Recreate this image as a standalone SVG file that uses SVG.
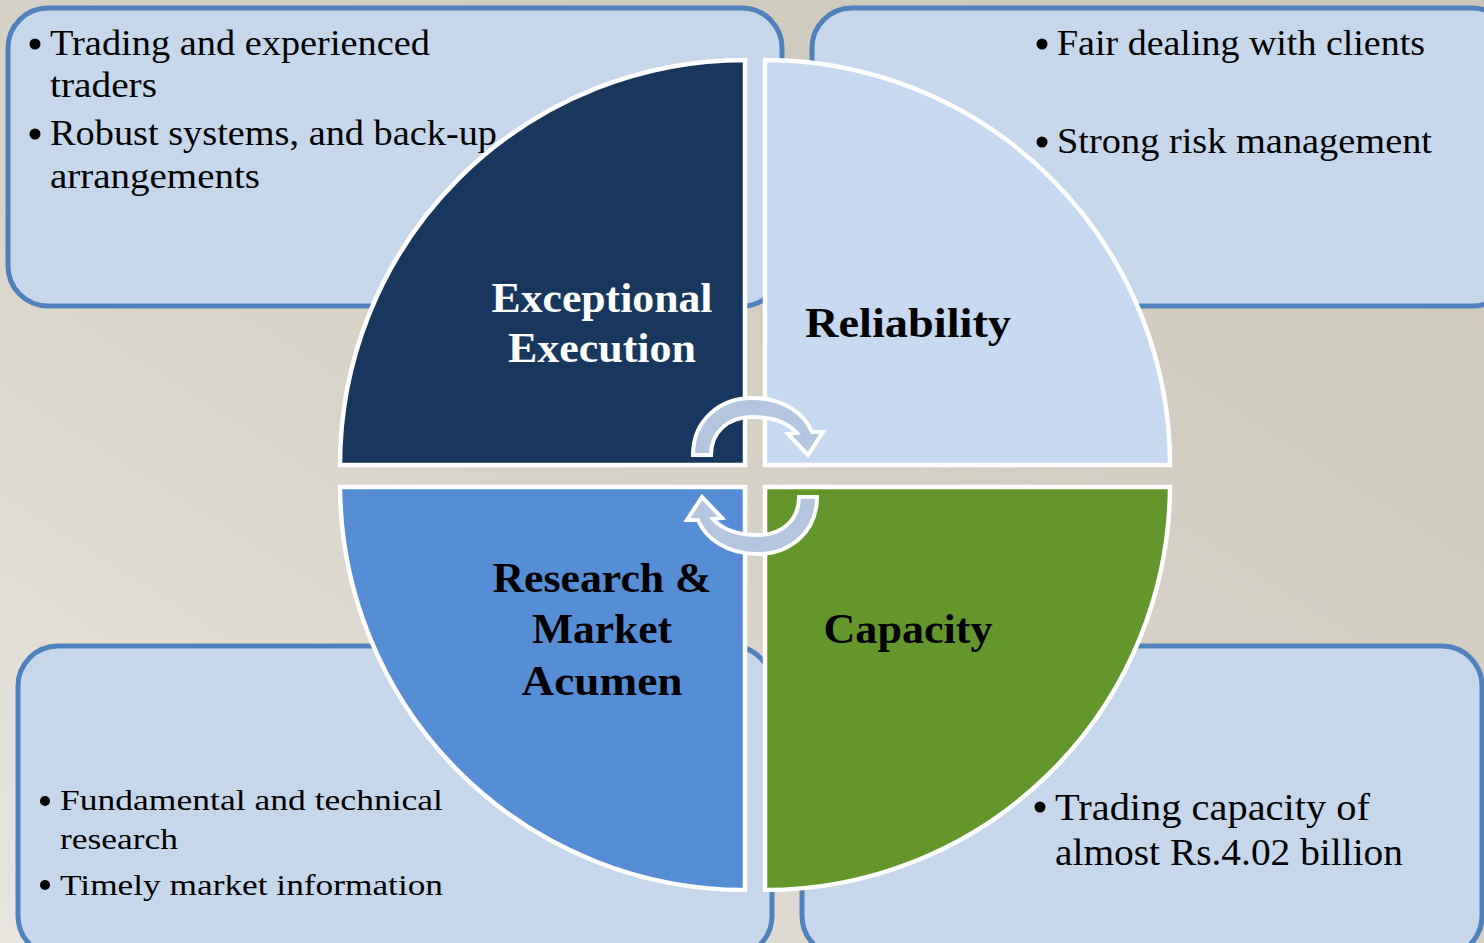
<svg xmlns="http://www.w3.org/2000/svg" width="1484" height="943" viewBox="0 0 1484 943">
<defs>
<linearGradient id="bg" x1="0" y1="1" x2="1" y2="0">
<stop offset="0" stop-color="#e9e6e0"/>
<stop offset="0.45" stop-color="#d6d2c7"/>
<stop offset="1" stop-color="#cbc6b9"/>
</linearGradient>
<style>
.box{fill:#c6d7ec;stroke:#4f81bd;stroke-width:5}
.q{stroke:#ffffff;stroke-width:4.5;stroke-linejoin:miter}
.t{font-family:"Liberation Serif","Times New Roman",serif;fill:#000}
.b{font-size:35px}
.s{font-size:30px}
.m{font-size:37px}
.h{font-family:"Liberation Serif","Times New Roman",serif;font-weight:bold;font-size:43px;text-anchor:middle}
.dot{fill:#000}
.arr{fill:#b3c5df;stroke:#ffffff;stroke-width:4;stroke-linejoin:miter}
</style>
</defs>
<rect x="0" y="0" width="1484" height="943" fill="url(#bg)"/>

<g id="box-tl">
<rect class="box" x="8" y="8" width="774" height="298" rx="40" ry="40"/>
<circle class="dot" cx="35" cy="44" r="5.5"/>
<text class="t b" x="50" y="55" textLength="380" lengthAdjust="spacingAndGlyphs">Trading and experienced</text>
<text class="t b" x="50" y="97" textLength="107" lengthAdjust="spacingAndGlyphs">traders</text>
<circle class="dot" cx="35" cy="134" r="5.5"/>
<text class="t b" x="50" y="145" textLength="447" lengthAdjust="spacingAndGlyphs">Robust systems, and back-up</text>
<text class="t b" x="50" y="188" textLength="210" lengthAdjust="spacingAndGlyphs">arrangements</text>
</g>

<g id="box-tr">
<rect class="box" x="812" y="8" width="700" height="298" rx="40" ry="40"/>
</g>

<g id="box-bl">
<rect class="box" x="18" y="646" width="754" height="310" rx="40" ry="40"/>
</g>

<g id="box-br">
<rect class="box" x="802" y="646" width="680" height="310" rx="40" ry="40"/>
</g>

<g id="q-exec">
<path class="q" fill="#17375e" d="M745 465 L340 465 A405 405 0 0 1 745 60 Z"/>
<text class="h" fill="#ffffff" x="602" y="312" textLength="221" lengthAdjust="spacingAndGlyphs">Exceptional</text>
<text class="h" fill="#ffffff" x="602" y="362" textLength="188" lengthAdjust="spacingAndGlyphs">Execution</text>
</g>

<g id="q-rel">
<path class="q" fill="#c6d9f1" d="M765 465 L765 60 A405 405 0 0 1 1170 465 Z"/>
<text class="h" fill="#000000" x="908" y="337" textLength="206" lengthAdjust="spacingAndGlyphs">Reliability</text>
</g>

<g id="q-res">
<path class="q" fill="#558ed5" d="M745 487 L745 890 A405 405 0 0 1 340 487 Z"/>
<text class="h" fill="#000000" x="602" y="592" textLength="219" lengthAdjust="spacingAndGlyphs">Research &amp;</text>
<text class="h" fill="#000000" x="602" y="643" textLength="140" lengthAdjust="spacingAndGlyphs">Market</text>
<text class="h" fill="#000000" x="602" y="695" textLength="161" lengthAdjust="spacingAndGlyphs">Acumen</text>
</g>

<g id="q-cap">
<path class="q" fill="#63962b" d="M765 487 L1170 487 A405 405 0 0 1 765 890 Z"/>
<text class="h" fill="#000000" x="908" y="643" textLength="169" lengthAdjust="spacingAndGlyphs">Capacity</text>
</g>

<g id="text-tr">
<circle class="dot" cx="1042" cy="44" r="5.5"/>
<text class="t b" x="1057" y="55" textLength="368" lengthAdjust="spacingAndGlyphs">Fair dealing with clients</text>
<circle class="dot" cx="1042" cy="142" r="5.5"/>
<text class="t b" x="1057" y="153" textLength="375" lengthAdjust="spacingAndGlyphs">Strong risk management</text>
</g>

<g id="text-bl">
<circle class="dot" cx="45" cy="801" r="5"/>
<text class="t s" x="60" y="810" textLength="383" lengthAdjust="spacingAndGlyphs">Fundamental and technical</text>
<text class="t s" x="60" y="849" textLength="118" lengthAdjust="spacingAndGlyphs">research</text>
<circle class="dot" cx="45" cy="885" r="5"/>
<text class="t s" x="60" y="895" textLength="383" lengthAdjust="spacingAndGlyphs">Timely market information</text>
</g>

<g id="text-br">
<circle class="dot" cx="1040" cy="807" r="5.5"/>
<text class="t m" x="1055" y="820" textLength="315" lengthAdjust="spacingAndGlyphs">Trading capacity of</text>
<text class="t m" x="1055" y="865" textLength="348" lengthAdjust="spacingAndGlyphs">almost Rs.4.02 billion</text>
</g>

<g id="connectors">
<path id="arrow-top" class="arr" d="M693 455 C693 420 720 398 752 398 C785 398 805 415 812 432 L823 432 L808 455 L788 434 L797 433 C789 424 775 417 752 417 C728 417 711 432 711 455 Z"/>
<path id="arrow-bottom" class="arr" transform="rotate(180 755 476)" d="M693 455 C693 420 720 398 752 398 C785 398 805 415 812 432 L823 432 L808 455 L788 434 L797 433 C789 424 775 417 752 417 C728 417 711 432 711 455 Z"/>
</g>
</svg>
